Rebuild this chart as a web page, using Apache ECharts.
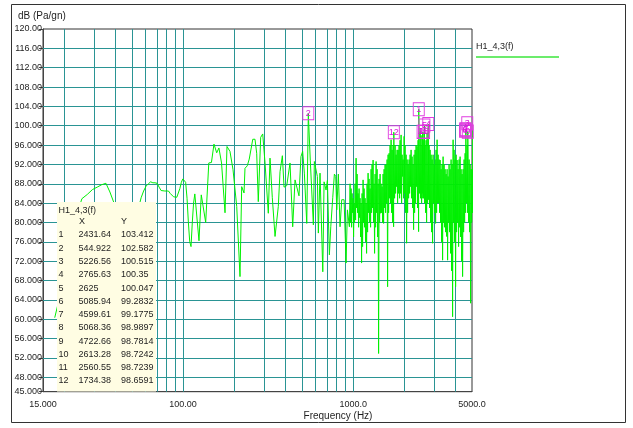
<!DOCTYPE html>
<html><head><meta charset="utf-8">
<script src="https://cdn.jsdelivr.net/npm/echarts@6/dist/echarts.min.js"></script>
<style>html,body{margin:0;padding:0;background:#fff}#c{width:633px;height:428px}</style>
</head><body><div id="c"></div>
<script>
// ---------- data ----------
const seriesName = 'H1_4,3(f)';
const yAxisTitle = 'dB (Pa/gn)';
const xAxisTitle = 'Frequency (Hz)';
const xAxisMin = 15, xAxisMax = 5000;
const yAxisMin = 45, yAxisMax = 120;
const xGridValues = [20,30,40,50,60,70,80,90,100,200,300,400,500,600,700,800,900,1000,2000,3000,4000];
const yTickValues = [45,48,52,56,60,64,68,72,76,80,84,88,92,96,100,104,108,112,116,120];
const yGridValues = [48,52,56,60,64,68,72,76,80,84,88,92,96,100,104,108,112,116];

// spectrum: [frequency Hz, level dB]
const spectrum = [
[17.58,60.3],[19.53,67],[21.48,74],[23.44,81],[25.39,84.9],[27.34,85.8],[29.30,86.8],[31.25,87.3],[33.20,87.8],[35.16,88.1],
[37.11,86.3],[39.06,84.2],[41.02,81],[42.97,79],[44.92,80],[46.88,81],[48.83,82],[50.78,80],[52.73,81],[54.69,83],
[56.64,85.1],[58.59,86.5],[60.55,87.5],[62.5,88.0],[64.45,88.4],[66.41,88.2],[68.36,88.2],[70.31,88.1],[72.27,87.3],[74.22,86.6],
[76.17,86.5],[78.13,86.5],[80.08,86.5],[82.03,86.5],[83.98,86.0],[85.94,85.6],[87.89,85.3],[89.84,85.1],[91.80,85.2],[93.75,85.3],
[95.70,87.0],[97.66,88.3],[99.61,89.0],[101.56,88.7],[103.52,88.3],[105.47,85.0],[107.42,80.0],[109.38,76.0],[111.33,75.0],[113.28,80.0],
[115.23,84.0],[117.19,85.9],[124,76.2],[127.9,85.7],[135.8,80.0],[141.6,92.3],[146.8,92.4],[151.9,96.2],[157.6,94.4],[162.4,95.4],
[168.3,92.3],[176.4,82.0],[181.2,95.7],[188.6,94.7],[196.6,90.9],[206.7,83.3],[216.1,68.8],[221.1,87.4],[228.2,86.1],[231.2,91.2],
[238.4,91.7],[244.9,93.1],[256.9,97.2],[264.8,97.2],[270.9,94.3],[276.8,84.3],[286.0,97.6],[293.9,98.3],[303.3,92.3],[317.0,81.9],
[324.4,93.3],[334.6,85.2],[347.3,77.1],[363.0,83.3],[371.5,90.5],[383.5,93.8],[392.3,87.3],[406.9,87.6],[425.4,92.3],[441.1,79.1],
[455.3,88.8],[465.8,88.9],[480.3,85.5],[493.1,93.6],[504.7,94.7],[516.5,90.2],[533.7,79.8],[544.922,102.582],[559.6,92.9],[572.7,93.1],
[583.5,79.5],[591.4,92.6],[616.0,89.5],[624.3,77.8],[638.6,90.2],[663.0,69.8],[674.5,88.4],[693.0,86.7],[705.6,88.7],[724.9,73.3],
[738.6,79.1],[759.0,85.2],[775.6,90.0],[790.3,89.5],[801.0,82.6],[818.7,90.0],[837.4,79.1],[856.7,84.7],[884.5,84.7],[908.7,71.6],
[925.3,82.6],[950.5,79.1],
[959.4,88],[965.9,80],[972.5,87],[979.1,79],[985.8,86],[992.5,82],[999.2,85],[1006,77],[1012.8,84],[1019.7,80],
[1026.6,88],[1033.6,80.5],[1040.6,93.3],[1047.7,83],[1054.8,90],[1062,82],[1069.2,86],[1076.5,79],[1083.8,87],[1091.2,81],
[1098.6,85],[1106,77],[1113.6,84],[1121.2,71.6],[1128.8,86],[1136.5,75],[1144.2,88.8],[1152,80],[1159.8,87],[1167.7,79],
[1175.6,85],[1183.6,76],[1191.6,84],[1199.7,73.6],[1207.8,88],[1216,78],[1224.3,90.2],[1232.6,82],[1241,89],[1249.4,80],
[1257.9,87],[1266.5,79],[1275.1,91],[1283.8,82],[1292.5,92],[1301.3,83],[1310.1,92.9],[1319,80],[1328,88],[1337,73.6],
[1346.1,90],[1355.3,79],[1364.5,92.6],[1373.8,82],[1383.1,91],[1392.5,77],[1402,88],[1411.5,52.9],[1421.1,89],[1430.8,80],
[1440.5,90],[1450.3,81.9],[1460.1,88],[1470,82],[1480,87.4],[1490,80],[1500.2,90],[1510.4,79.8],[1520.7,91],[1531,83],
[1541.4,91.9],[1551.9,82],[1562.4,92],[1573,84],[1583.7,93],[1594.5,66.7],[1605.3,94],[1616.2,82],[1627.2,94.3],[1638.3,85],
[1649.4,96],[1660.6,84],[1671.9,97.1],[1683.3,82],[1694.7,95],[1706.2,80],[1717.8,96],[1729.5,79.1],[1734.38,98.6591],[1753,85],
[1764.9,96],[1776.9,86],[1789,94],[1801.2,87.4],[1813.4,95],[1825.7,84],[1838.1,95],[1850.6,86],[1863.2,96],[1875.9,85],
[1888.6,97],[1901.4,86],[1914.3,98.1],[1927.3,84],[1940.4,94],[1953.6,89.5],[1966.9,93],[1980.3,85],[1993.7,97.8],[2007.3,86],
[2020.9,96],[2034.6,82],[2048.5,94],[2062.4,75.7],[2076.4,93],[2090.5,82],[2104.7,92],[2119,85],[2133.4,93],[2147.9,86],
[2162.5,94],[2177.2,87.4],[2192,95],[2206.9,85],[2221.9,93.6],[2237,83],[2252.2,92],[2267.5,78.5],[2282.9,94],[2298.4,82],
[2314,95],[2329.7,84],[2345.6,96],[2361.6,87.4],[2377.6,95.7],[2393.8,83],[2410,97],[2426.4,78.1],[2431.64,103.412],[2459.5,86],
[2476.2,99],[2493,85],[2509.9,98],[2527,84],[2544.1,96],[2552,86],[2560.55,98.7239],[2569,85],[2578.8,97],[2596.3,85],
[2613.28,98.7242],[2619,90],[2625,100.047],[2632,84],[2649.6,96],[2667.6,82],[2685.7,97],[2704,80],[2722.3,98.5],[2740.8,84],
[2759.4,91],[2765.63,100.35],[2778,84.7],[2797,96],[2816,83],[2835.2,95],[2854.5,80],[2873.9,94],[2893.4,78],[2913.1,93],
[2932.9,75.7],[2952.8,94],[2972.9,84],[2993,92],[3013.4,82],[3033.8,93],[3054.4,79.8],[3075.2,95],[3096.1,82],[3117.1,97.1],
[3138.3,84],[3159.6,94],[3181.1,84],[3202.7,93],[3224.5,82],[3246.4,92.9],[3268.5,80],[3290.6,91],[3313,76],[3335.5,92],
[3358.2,72.2],[3381,93.6],[3404,80],[3427.1,92],[3450.4,79],[3473.8,91],[3497.4,78],[3521.2,90],[3545.1,77.1],[3569.2,91],
[3593.5,72.2],[3617.9,89.5],[3642.5,80],[3667.2,92],[3692.1,78],[3717.2,91],[3742.5,73.6],[3767.9,93],[3793.5,70],[3819.3,92],
[3845.3,60.5],[3871.4,97.1],[3897.7,80],[3924.2,95],[3950.9,76],[3977.7,93],[4004.7,66.7],[4031.9,94],[4059.3,78],[4086.9,92.9],
[4114.7,80],[4142.6,91],[4170.8,75],[4199.1,93],[4227.7,79],[4256.4,93.6],[4285.3,77],[4314.4,91],[4343.7,72],[4373.2,90],
[4402.9,68.8],[4432.9,91],[4463,78],[4493.3,93],[4523.9,80],[4554.6,94.3],[4585.6,82],[4599.61,99.1775],[4648,84],[4679.7,96],
[4711.5,82],[4722.66,98.7814],[4775.8,80],[4808.2,93],[4840.9,78],[4873.8,92],[4906.9,63.3],[4940.2,91],[4973.8,80],[5007.6,90.9],
[5041.7,82],[5068.36,98.9897],[5075,85],[5085.94,99.2832],[5150,84],[5226.56,100.515]
];

// peak markers (table)
const markerX = [2431.64,544.922,5226.56,2765.63,2625,5085.94,4599.61,5068.36,4722.66,2613.28,2560.55,1734.38];
const markerY = [103.412,102.582,100.515,100.35,100.047,99.2832,99.1775,98.9897,98.7814,98.7242,98.7239,98.6591];

// ---------- chart ----------
const FONT = '"Liberation Sans", Arial, sans-serif';
const TXT = '#1e1e1e';
const GRIDC = '#2a9494';
const fmt6 = v => String(Number(v.toPrecision(6)));

function txt(s, x, y, size, align) {
  return {type:'text', z:100, x:x, y:y, silent:true,
    style:{text:s, font: size + 'px ' + FONT, fill:TXT,
      align: align || 'left', textAlign: align || 'left',
      verticalAlign:'middle', textVerticalAlign:'middle'}};
}

const elements = [];
elements.push({type:'rect', z:0, silent:true, shape:{x:11.5,y:4.5,width:614,height:418},
  style:{fill:'none', stroke:'#333', lineWidth:1}});
elements.push(txt(yAxisTitle, 18, 16.5, 10));
elements.push(txt(xAxisTitle, 338, 416, 10, 'center'));
// legend
elements.push(txt(seriesName, 476, 47, 9));
elements.push({type:'line', z:100, silent:true, shape:{x1:476,y1:57,x2:559,y2:57},
  style:{stroke:'#3be63b', lineWidth:1.5}});
// marker table
elements.push({type:'rect', z:99, silent:true, shape:{x:57,y:202,width:99,height:189.5},
  style:{fill:'#fffde3'}});
elements.push(txt(seriesName, 58.5, 210.5, 9));
elements.push(txt('X', 79, 222, 9));
elements.push(txt('Y', 121, 222, 9));
markerX.forEach((x, i) => {
  const y = 235 + i * 13.27;
  elements.push(txt(String(i + 1), 58.5, y, 9));
  elements.push(txt(fmt6(x), 78.5, y, 9));
  elements.push(txt(fmt6(markerY[i]), 121, y, 9));
});

const chart = echarts.init(document.getElementById('c'), null, {renderer:'canvas'});
chart.setOption({
  animation:false,
  backgroundColor:'#ffffff',
  grid:{left:43, top:29, right:161, bottom:36.3, show:true, borderColor:'#333', borderWidth:1, backgroundColor:'transparent'},
  xAxis:{type:'log', logBase:10, min:xAxisMin, max:xAxisMax,
    axisLine:{show:true, lineStyle:{color:'#444'}},
    axisTick:{show:false},
    axisLabel:{margin:8, fontSize:9, color:TXT, fontFamily:'Liberation Sans',
      formatter: v => Number(v).toPrecision(5)},
    splitLine:{show:false}},
  yAxis:{type:'value', min:yAxisMin, max:yAxisMax,
    axisLine:{show:true, lineStyle:{color:'#444'}},
    axisTick:{show:true, length:4, customValues:yTickValues, lineStyle:{color:'#444'}},
    axisLabel:{customValues:yTickValues, margin:1, fontSize:9, color:TXT, fontFamily:'Liberation Sans',
      formatter: v => Number(v).toPrecision(5)},
    splitLine:{show:false}},
  series:[
    {type:'line', name:seriesName, z:3, data:spectrum, showSymbol:false, symbol:'none',
      lineStyle:{color:'#00f000', width:1}, itemStyle:{color:'#00f000'}, silent:true,
      markLine:{silent:true, z:1, symbol:['none','none'], animation:false, label:{show:false},
        emphasis:{disabled:true},
        lineStyle:{color:GRIDC, width:1, type:'solid', opacity:1},
        data:[...xGridValues.map(v => ({xAxis:v})), ...yGridValues.map(v => ({yAxis:v}))]}},
    {type:'scatter', name:'markers', z:4, clip:false, silent:true,
      symbol:'rect', symbolSize:[11,13],
      itemStyle:{color:'rgba(255,255,255,0)', borderColor:'#e03ce0', borderWidth:1, opacity:1},
      label:{show:true, position:'inside', color:'#dd11dd', fontSize:9, fontFamily:'Liberation Sans',
        formatter: p => String(p.value[2])},
      data: markerX.map((x, i) => ({value:[x, markerY[i], i + 1],
        symbolOffset: x > xAxisMax ? [-8, 0] : [0, 0]}))}
  ],
  graphic:{elements:elements}
});
</script>
</body></html>
